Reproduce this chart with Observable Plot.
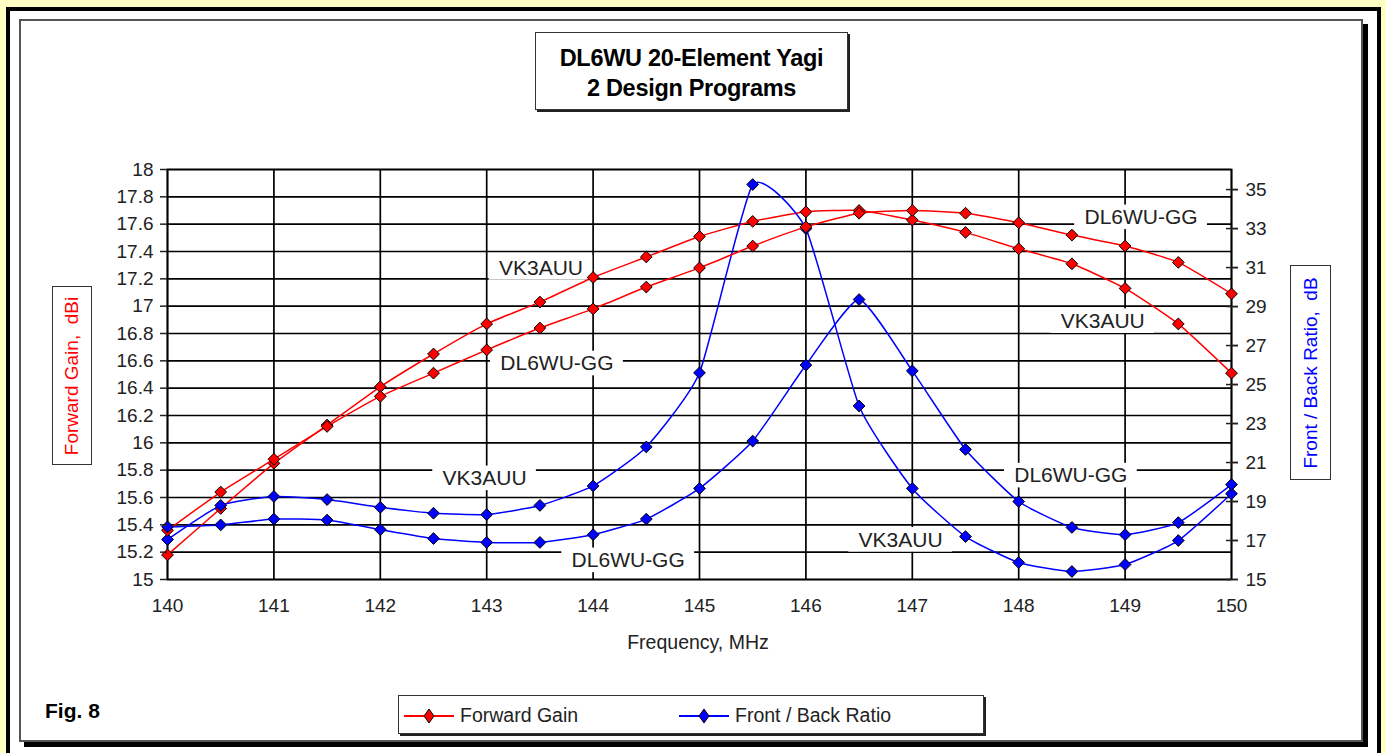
<!DOCTYPE html>
<html>
<head>
<meta charset="utf-8">
<script src="https://cdn.jsdelivr.net/npm/d3@7"></script>
<script src="https://cdn.jsdelivr.net/npm/@observablehq/plot@0.6"></script>
<style>
  html, body { margin: 0; padding: 0; }
  body { width: 1386px; height: 753px; background: #FFFFC4; position: relative; overflow: hidden;
         font-family: "Liberation Sans", Arial, sans-serif; color: #222; }
  .abs { position: absolute; }
  #outer { left: 6px; top: 7px; width: 1375px; height: 780px; border: 4px solid #000; background: #fff; box-sizing: border-box; }
  #inner { left: 19px; top: 19px; width: 1344px; height: 723px; border: 2px solid #555; background: #fff; box-sizing: border-box; box-shadow: 5px 5px 0 #000; }
  #title { left: 535px; top: 32px; width: 313px; height: 78px; border: 1px solid #333; box-shadow: 2px 2px 0 #222; background: #fff;
           box-sizing: border-box; text-align: center; font-weight: bold; font-size: 23.5px; line-height: 30px; padding-top: 10px; color: #000; letter-spacing: -0.3px; }
  #legend { left: 398px; top: 695px; width: 586px; height: 39px; border: 1px solid #333; box-shadow: 2px 2px 0 #222; background: #fff; box-sizing: border-box; }
  .leg { position: absolute; top: 8px; font-size: 19.5px; display: flex; align-items: center; }
  #fig { left: 45px; top: 699px; font-weight: bold; font-size: 21px; color: #000; }
  .ybox { border: 1px solid #333; background: #fff; box-sizing: border-box; }
  .ylab { position: absolute; left: 50%; top: 50%; transform: translate(-50%, -50%) rotate(-90deg); white-space: nowrap; font-size: 19px; }
  #xlab { left: 548px; top: 631px; width: 300px; text-align: center; font-size: 19.5px; }
  #chart { left: 0; top: 0; }
</style>
</head>
<body>
<div id="outer" class="abs"></div>
<div id="inner" class="abs"></div>
<div id="title" class="abs">DL6WU 20-Element Yagi<br>2 Design Programs</div>
<div class="abs ybox" style="left:52px;top:286px;width:40px;height:179px;"><div class="ylab" style="color:#f00;">Forward Gain,&nbsp; dBi</div></div>
<div class="abs ybox" style="left:1290px;top:265px;width:41px;height:215px;"><div class="ylab" style="color:#00f;">Front / Back Ratio,&nbsp; dB</div></div>
<div id="xlab" class="abs">Frequency, MHz</div>
<div id="fig" class="abs">Fig. 8</div>
<div id="legend" class="abs">
  <div class="leg" style="left:5px;">
    <svg width="52" height="20"><line x1="0" y1="10" x2="50" y2="10" stroke="#f00" stroke-width="2"/><path d="M25 3 L30 10 L25 17 L20 10 Z" fill="#f00" stroke="#000"/></svg>
    <span style="margin-left:4px;">Forward Gain</span></div>
  <div class="leg" style="left:280px;">
    <svg width="52" height="20"><line x1="0" y1="10" x2="50" y2="10" stroke="#00f" stroke-width="2"/><path d="M25 3 L30 10 L25 17 L20 10 Z" fill="#00f" stroke="#000"/></svg>
    <span style="margin-left:4px;">Front / Back Ratio</span></div>
</div>
<div id="chart" class="abs"></div>
<script>
// ---- data ----
const freq = [140, 140.5, 141, 141.5, 142, 142.5, 143, 143.5, 144, 144.5, 145, 145.5, 146, 146.5, 147, 147.5, 148, 148.5, 149, 149.5, 150];
const gainVK = [15.18, 15.52, 15.85, 16.13, 16.41, 16.65, 16.87, 17.03, 17.21, 17.36, 17.51, 17.62, 17.69, 17.70, 17.63, 17.54, 17.42, 17.31, 17.13, 16.87, 16.51];
const gainDL = [15.36, 15.64, 15.88, 16.12, 16.34, 16.51, 16.68, 16.84, 16.98, 17.14, 17.28, 17.44, 17.58, 17.68, 17.70, 17.68, 17.61, 17.52, 17.44, 17.32, 17.09];
const fbVK = [17.05, 18.8, 19.26, 19.1, 18.7, 18.4, 18.33, 18.8, 19.8, 21.8, 25.6, 35.26, 33.0, 23.9, 19.67, 17.2, 15.87, 15.41, 15.77, 17.0, 19.4];
const fbDL = [17.7, 17.8, 18.1, 18.05, 17.56, 17.1, 16.9, 16.9, 17.3, 18.1, 19.67, 22.1, 26.0, 29.36, 25.7, 21.67, 19.0, 17.67, 17.3, 17.92, 19.87];

const freqTicks = [140, 141, 142, 143, 144, 145, 146, 147, 148, 149, 150];
const gainTicks = [15, 15.2, 15.4, 15.6, 15.8, 16, 16.2, 16.4, 16.6, 16.8, 17, 17.2, 17.4, 17.6, 17.8, 18];
const fbTicks = [15, 17, 19, 21, 23, 25, 27, 29, 31, 33, 35];

const labelText = ["VK3AUU", "DL6WU-GG", "VK3AUU", "DL6WU-GG", "DL6WU-GG", "VK3AUU", "DL6WU-GG", "VK3AUU"];
const labelFreq = [143.51, 143.66, 142.98, 144.33, 149.15, 148.79, 148.49, 146.89];
const labelGain = [17.28, 16.58, 15.74, 15.14, 17.65, 16.89, 15.76, 15.29];

// secondary axis mapping (right axis 15..36.03 onto left 15..18)
const GMIN = 15, GMAX = 18, FMIN = 15, FMAX = 36.03;
const toGain = v => GMIN + (v - FMIN) * (GMAX - GMIN) / (FMAX - FMIN);
const fromGain = g => FMIN + (g - GMIN) * (FMAX - FMIN) / (GMAX - GMIN);

const rows = (ys, conv) => freq.map((f, i) => ({f, v: conv ? conv(ys[i]) : ys[i]}));
const labels = labelText.map((t, i) => ({t, f: labelFreq[i], g: labelGain[i]}));

function series(data, color) {
  return [
    Plot.line(data, {x: "f", y: "v", stroke: color, strokeWidth: 1.5, curve: "cardinal", tension: 0.5}),
    Plot.dot(data, {x: "f", y: "v", symbol: "diamond2", r: 5.3, fill: color, stroke: "#000", strokeWidth: 1})
  ];
}

const chart = Plot.plot({
  width: 1386,
  height: 660,
  marginLeft: 167,
  marginRight: 155,
  marginTop: 169,
  marginBottom: 81,
  style: {fontFamily: "'Liberation Sans', Arial, sans-serif", fontSize: "18px", background: "transparent", color: "#222", overflow: "visible"},
  x: {domain: [140, 150]},
  y: {domain: [GMIN, GMAX]},
  marks: [
    Plot.gridX(freqTicks, {stroke: "#000", strokeOpacity: 1, strokeWidth: 1.7}),
    Plot.gridY(gainTicks, {stroke: "#000", strokeOpacity: 1, strokeWidth: 1.7}),
    Plot.frame({stroke: "#000", strokeWidth: 1.7}),
    // white label boxes (sized from the label text length) hiding the grid behind the data labels
    Plot.rect(labels, {
      x1: d => d.f - (d.t.length * 7.3 + 8) / 106.4, x2: d => d.f + (d.t.length * 7.3 + 8) / 106.4,
      y1: d => d.g - 0.09, y2: d => d.g + 0.09, fill: "#fff"
    }),
    Plot.text(labels, {x: "f", y: "g", text: "t", fill: "#222", fontSize: 21}),
    ...series(rows(gainVK), "#f00"),
    ...series(rows(fbVK, toGain), "#00f"),
    ...series(rows(gainDL), "#f00"),
    ...series(rows(fbDL, toGain), "#00f"),
    Plot.axisX(freqTicks, {tickSize: 0, tickPadding: 19, label: null, fill: "#222", fontSize: 19}),
    Plot.axisY(gainTicks, {anchor: "left", tickSize: 7, tickPadding: 7, tickFormat: d => String(d), label: null, fill: "#222", fontSize: 19, strokeWidth: 1.5}),
    Plot.axisY(fbTicks.map(toGain), {anchor: "right", tickSize: 6, tickPadding: 8, tickFormat: d => String(Math.round(fromGain(d))), label: null, fill: "#222", fontSize: 19, strokeWidth: 1.5}),
    Plot.axisY(fbTicks.map(toGain), {anchor: "right", tickSize: 12, dx: -6, tickFormat: () => "", label: null, strokeWidth: 1.5})
  ]
});
document.getElementById("chart").appendChild(chart);
</script>
</body>
</html>
